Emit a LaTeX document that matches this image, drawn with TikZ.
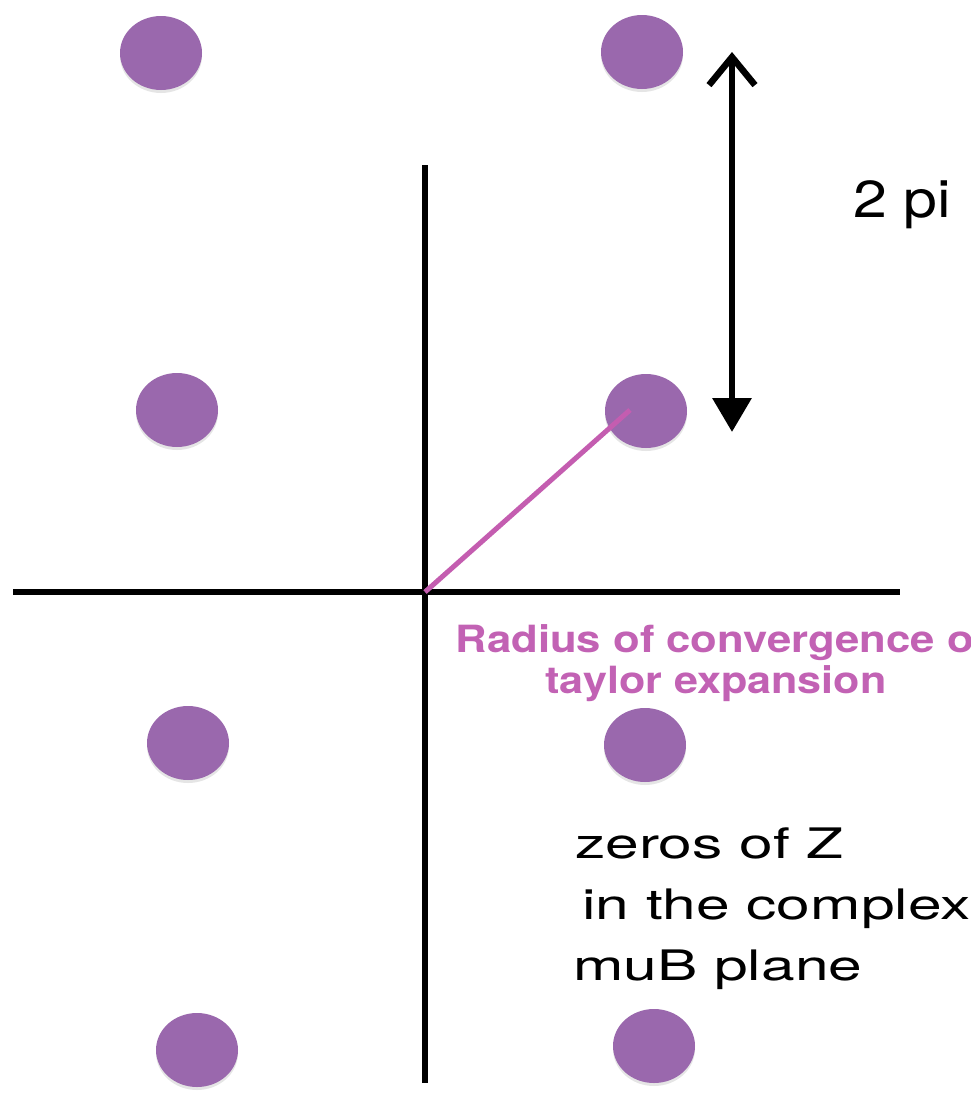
\documentclass[tikz,border=0pt]{standalone}
\usepackage{fontspec}
\newfontfamily\heros{TeX Gyre Heros}
\usetikzlibrary{arrows.meta,shapes.geometric,shadows}
\definecolor{dotpurple}{HTML}{9A68AD}
\definecolor{radpink}{HTML}{C262B4}
\definecolor{linepink}{HTML}{C45DB0}
\begin{document}
\begin{tikzpicture}[x=1pt,y=-1pt,
  zero/.style={ellipse, fill=dotpurple, minimum width=82pt, minimum height=74pt, inner sep=0pt,
    drop shadow={shadow xshift=0pt, shadow yshift=-3pt, opacity=0.2}},
  axisline/.style={line width=6pt, black},
  bigtext/.style={anchor=base west, inner sep=0pt, text=black, font=\heros\fontsize{42}{50}\selectfont},
  pitext/.style={anchor=base west, inner sep=0pt, text=black, font=\heros\fontsize{52}{60}\selectfont},
  radtext/.style={anchor=base, inner sep=0pt, text=radpink, font=\heros\bfseries\fontsize{37.5}{44}\selectfont},
  radline/.style={line width=5pt, linepink},
  periodarrow/.style={line width=6.5pt, black, {Straight Barb[length=28pt,width=46pt]}-{Triangle[length=34pt,width=38pt]}}]
\useasboundingbox (0,0) rectangle (971,1095);
\clip (0,0) rectangle (971,1095);
\fill[white] (0,0) rectangle (971,1095);
% zeros
\node[zero] (tl) at (161,53) {};
\node[zero] (tr) at (642,52) {};
\node[zero] (ml) at (177,410) {};
\node[zero] (mr) at (646,411) {};
\node[zero] (ll) at (188,743) {};
\node[zero] (lr) at (645,745) {};
\node[zero] (bl) at (197,1050) {};
\node[zero] (br) at (654,1046) {};
% axes
\coordinate (xl) at (13,592);
\coordinate (xr) at (900,592);
\coordinate (yt) at (425,165);
\coordinate (yb) at (425,1083);
\coordinate (O) at (425,592);
\draw[axisline] (xl) -- (xr);
\draw[axisline] (yt) -- (yb);
% radius line
\coordinate (rend) at (630,410);
\draw[radline] (O) -- (rend);
% period arrow
\coordinate (atop) at (732,52);
\coordinate (abot) at (732,432);
\draw[periodarrow] (atop) -- (abot);
\node[pitext] (twopi) at (853,217) {\scalebox{1.17}[1]{2 pi}};
% radius label
\node[radtext] (rad1) at (722,652) {\scalebox{1.165}[1]{Radius of convergence of}};
\node[radtext] (rad2) at (716,693) {\scalebox{1.15}[1]{taylor expansion}};
% zeros label
\node[bigtext] (z1) at (575,858) {\scalebox{1.44}[1]{zeros of Z}};
\node[bigtext] (z2) at (582,919) {\scalebox{1.44}[1]{in the complex}};
\node[bigtext] (z3) at (573,980) {\scalebox{1.44}[1]{muB plane}};
\end{tikzpicture}
\end{document}
